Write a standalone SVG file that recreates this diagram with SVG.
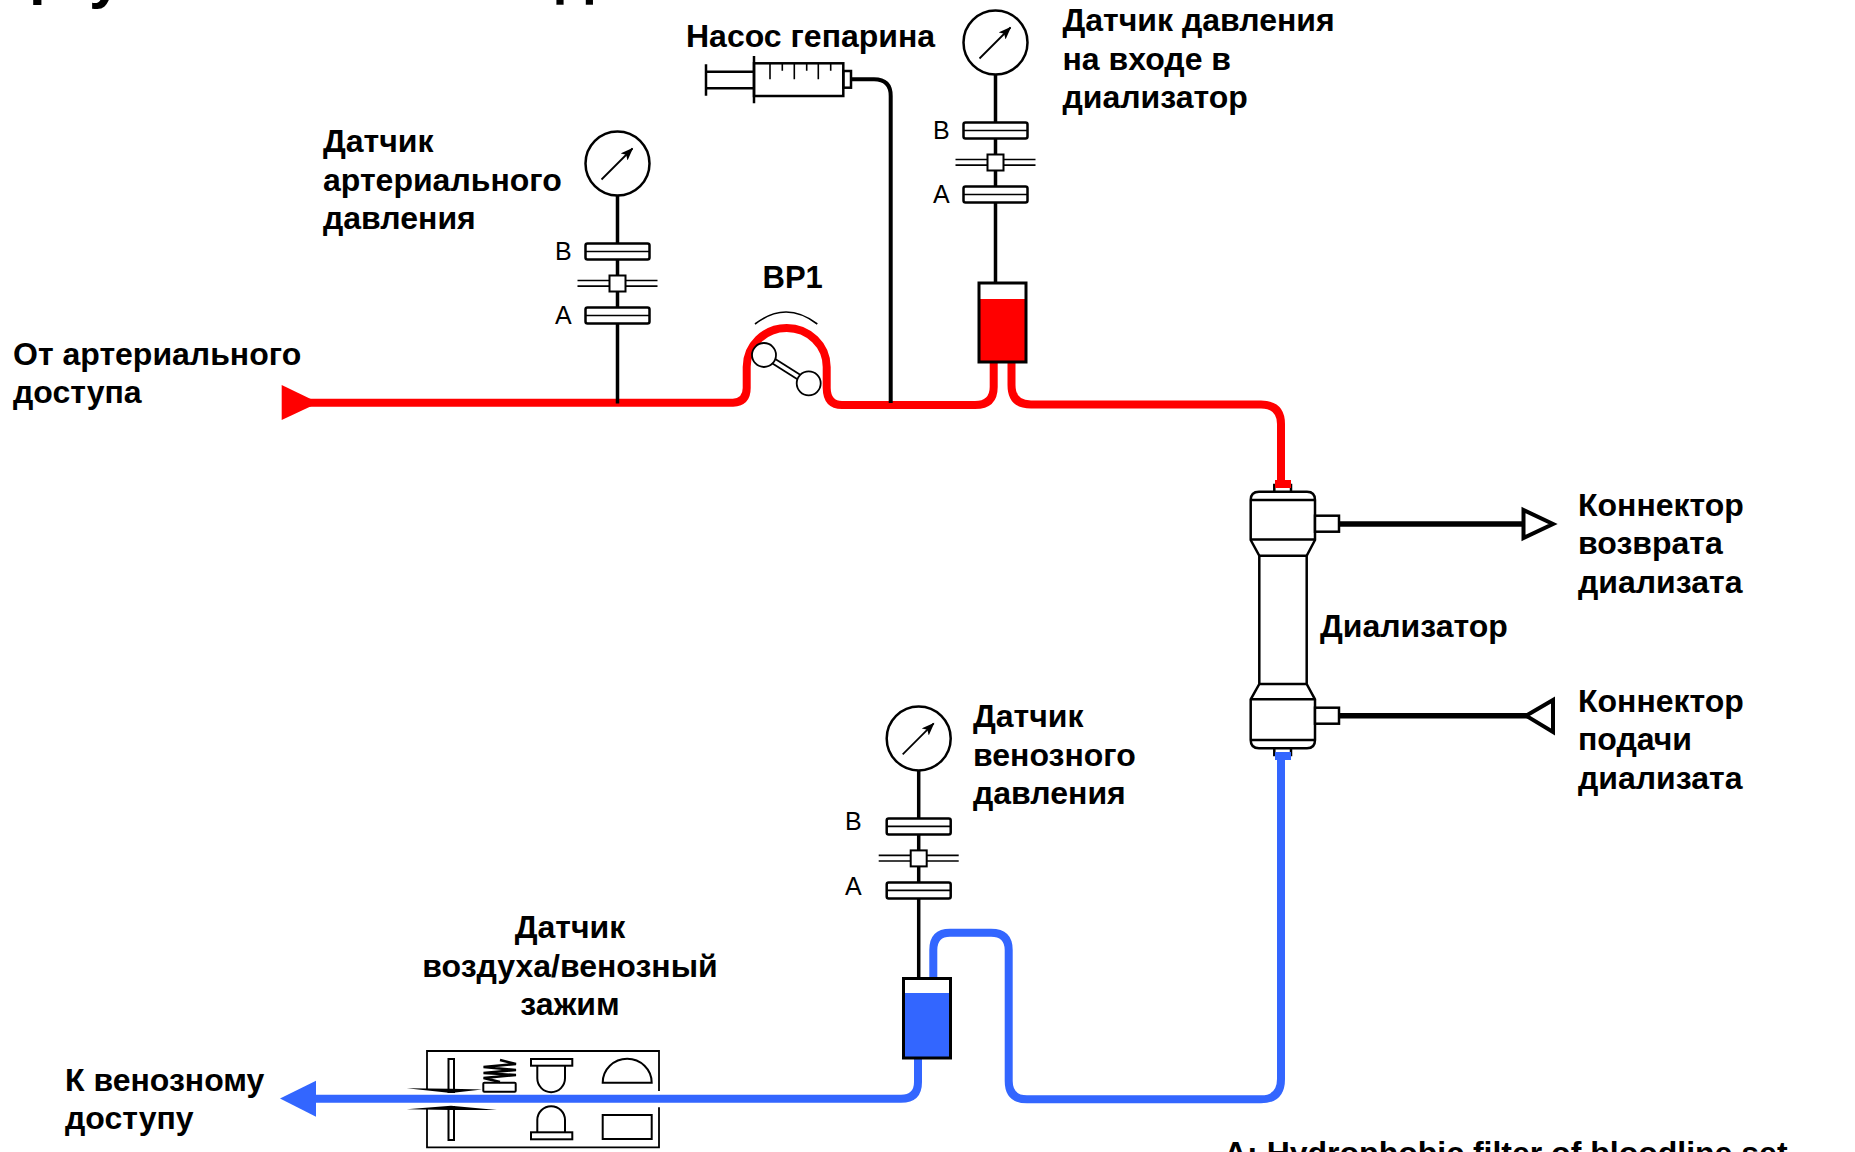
<svg xmlns="http://www.w3.org/2000/svg" xmlns:xlink="http://www.w3.org/1999/xlink" width="1855" height="1152" viewBox="0 0 1855 1152">
<style>
text{font-family:"Liberation Sans",Arial,sans-serif;fill:#000}
.b{font-weight:700;font-size:32px}
.t{font-weight:700;font-size:60px}
.ab{font-size:25px}
.k{fill:none;stroke:#000;stroke-width:2.5}
.w{fill:#fff;stroke:#000;stroke-width:2.5}
.r{fill:none;stroke:#f00;stroke-width:8}
.u{fill:none;stroke:#36f;stroke-width:8}
.s{fill:none;stroke:#000;stroke-width:4}
.l{fill:none;stroke:#000;stroke-width:5.5}
</style>
<defs>
<marker id="needle" markerWidth="14" markerHeight="12" refX="12" refY="5" orient="auto" markerUnits="userSpaceOnUse"><path d="M0,0L13,5L0,10L3,5Z" fill="#000"/></marker>
<g id="gauge">
<line x1="0" y1="32" x2="0" y2="240" stroke="#000" stroke-width="3.5"/>
<circle r="32" fill="#fff" stroke="#000" stroke-width="2.5"/>
<line x1="-16" y1="16" x2="15" y2="-15" stroke="#000" stroke-width="1.8" marker-end="url(#needle)"/>
<rect class="w" x="-32" y="80" width="64" height="16" rx="2"/>
<line class="k" x1="-32" y1="88" x2="32" y2="88" style="stroke-width:1.6"/>
<line x1="-40" y1="117" x2="40" y2="117" stroke="#000" stroke-width="1.6"/>
<line x1="-40" y1="122.6" x2="40" y2="122.6" stroke="#000" stroke-width="1.6"/>
<rect x="-8" y="112" width="16" height="16" fill="#fff" stroke="#000" stroke-width="2"/>
<rect class="w" x="-32" y="144" width="64" height="16" rx="2"/>
<line class="k" x1="-32" y1="152" x2="32" y2="152" style="stroke-width:1.6"/>
</g>
</defs>
<rect width="1855" height="1152" fill="#fff"/>
<g id="title-fragments">
<text class="t" x="29" y="-7">р</text>
<text class="t" x="89" y="-3">у</text>
<text class="t" x="556" y="-7">д</text>
</g>
<g id="connectors">
<path class="r" d="M305,402.7H733Q746.7,402 746.7,388V367A40,39 0 0 1 826.7,367V388Q827,405 842,405H975Q993.7,405 993.7,387V362"/>
<path class="r" d="M1011.5,362V385Q1011.5,404.6 1031,404.6H1261Q1281,404.6 1281,424V488"/>
<path class="u" d="M1281,752V1079Q1281,1099.3 1261,1099.3H1027Q1008.7,1099.3 1008.7,1081V950Q1008.7,932.7 991,932.7H950Q933.3,932.7 933.3,950V978"/>
<path class="u" d="M918,1058V1082Q918,1098.8 901,1098.8H312"/>
<path class="s" d="M851,79.3H874Q890.7,79.3 890.7,96V403"/>
<line class="l" x1="1339" y1="524" x2="1525" y2="524"/>
<line class="l" x1="1339" y1="715.7" x2="1528" y2="715.7"/>
</g>
<g id="arrow-in"><polygon points="281.7,385 281.7,420 318.5,402.7" fill="#f00"/></g>
<g id="arrow-out"><polygon points="280,1098.5 316,1080.7 316,1116.7" fill="#36f"/></g>
<g id="sensor-arterial"><use href="#gauge" x="617.5" y="163.5"/>
<text class="ab" x="555" y="260">B</text><text class="ab" x="555" y="324">A</text></g>
<g id="sensor-input"><use href="#gauge" x="995.5" y="42.5"/>
<text class="ab" x="933" y="139.3">B</text><text class="ab" x="933" y="202.7">A</text></g>
<g id="sensor-venous"><use href="#gauge" x="918.7" y="738.4"/>
<text class="ab" x="845" y="830">B</text><text class="ab" x="845" y="895">A</text></g>
<g id="chamber-red">
<rect x="980" y="299" width="45" height="62" fill="#f00"/>
<rect x="979" y="283" width="47" height="79" fill="none" stroke="#000" stroke-width="3"/>
</g>
<g id="chamber-blue">
<rect x="904" y="993" width="45" height="65" fill="#36f"/>
<rect x="903.5" y="978.5" width="47" height="79.5" fill="none" stroke="#000" stroke-width="3"/>
</g>
<g id="heparin-pump">
<path class="k" d="M706,64.3V95.7M706,71.7H754M706,88.3H754M754,56V103.3"/>
<rect class="k" x="754" y="63.3" width="89.3" height="32.7"/>
<path d="M770,63.3V79.3M782.3,63.3V70.7M794.3,63.3V79.3M806.7,63.3V70.7M818.3,63.3V79.3M830.7,63.3V70.7" fill="none" stroke="#000" stroke-width="1.6"/>
<rect class="k" x="843.3" y="71" width="7.7" height="16.7"/>
</g>
<g id="bp1-pump">
<path d="M755,324Q786,300 817.3,324" fill="none" stroke="#000" stroke-width="1.6"/>
<line x1="764" y1="355" x2="808.7" y2="383.3" stroke="#000" stroke-width="7"/>
<line x1="764" y1="355" x2="808.7" y2="383.3" stroke="#fff" stroke-width="3.4"/>
<circle cx="764" cy="355" r="12" fill="#fff" stroke="#000" stroke-width="1.8"/>
<circle cx="808.7" cy="383.3" r="12" fill="#fff" stroke="#000" stroke-width="1.8"/>
</g>
<g id="dialyzer">
<rect class="w" x="1274.3" y="485" width="16.7" height="10"/>
<rect class="w" x="1274.3" y="745" width="16.7" height="10"/>
<path class="w" d="M1259,491.7H1307Q1315,491.7 1315,500V540L1306.7,555.7V684L1315,699.3V740Q1315,748.3 1307,748.3H1259Q1250.7,748.3 1250.7,740V699.3L1259.3,684V555.7L1250.7,540V500Q1250.7,491.7 1259,491.7Z"/>
<path class="k" d="M1250.7,500H1315M1250.7,539.5H1315M1259.3,555.7H1306.7M1259.3,684H1306.7M1250.7,699.3H1315M1250.7,740H1315"/>
<rect class="w" x="1315" y="515.7" width="24" height="16"/>
<rect class="w" x="1315" y="707.7" width="24" height="16"/>
<path d="M1275,480H1291V488H1275Z" fill="#f00"/>
<path d="M1275,752H1291V760H1275Z" fill="#36f"/>
</g>
<g id="connector-return"><polygon points="1523.5,510 1523.5,538 1553,524" fill="#fff" stroke="#000" stroke-width="4"/></g>
<g id="connector-supply"><polygon points="1526,715.7 1553,700 1553,732" fill="#fff" stroke="#000" stroke-width="4"/></g>
<g id="air-detector">
<path d="M427,1089V1051H659V1091M659,1107.3V1147.3H427V1109" fill="none" stroke="#000" stroke-width="1.8"/>
<rect x="448.5" y="1059" width="5.5" height="33" fill="#fff" stroke="#000" stroke-width="2"/>
<rect x="448.5" y="1107" width="5.5" height="33" fill="#fff" stroke="#000" stroke-width="2"/>
<polygon points="406.7,1088.3 451,1088.7 482,1089.5 451,1093" fill="#000"/>
<polygon points="406.7,1109.3 451,1105.8 497,1110 451,1110" fill="#000"/>
<rect x="483.3" y="1082.7" width="32.4" height="9" rx="1" fill="#fff" stroke="#000" stroke-width="2"/>
<path d="M500,1060L516,1064L483.5,1067L516,1070L483.5,1073L516,1075L483.5,1078L500,1082" fill="none" stroke="#000" stroke-width="2.4"/>
<rect x="531" y="1059" width="41.3" height="6.7" fill="#fff" stroke="#000" stroke-width="2"/>
<path d="M537.3,1065.7V1078.3A13.8,13.8 0 0 0 565,1078.3V1065.7" fill="none" stroke="#000" stroke-width="2"/>
<rect x="531" y="1132.3" width="41.3" height="7" fill="#fff" stroke="#000" stroke-width="2"/>
<path d="M537.3,1132.3V1120A13.8,13.8 0 0 1 565,1120V1132.3" fill="none" stroke="#000" stroke-width="2"/>
<path d="M602.7,1082.7A24.5,24 0 0 1 651.7,1082.7Z" fill="#fff" stroke="#000" stroke-width="2"/>
<rect x="602.7" y="1115" width="49" height="24" fill="#fff" stroke="#000" stroke-width="2"/>
</g>
<g id="labels">
<text class="b" x="686" y="47">Насос гепарина</text>
<text class="b" x="1062.5" y="31">Датчик давления</text>
<text class="b" x="1062.5" y="69.6">на входе в</text>
<text class="b" x="1062.5" y="108.2">диализатор</text>
<text class="b" x="323" y="152">Датчик</text>
<text class="b" x="323" y="190.6">артериального</text>
<text class="b" x="323" y="229.2">давления</text>
<text class="b" x="762.5" y="288.3" style="font-size:31px">BP1</text>
<text class="b" x="13" y="365">От артериального</text>
<text class="b" x="13" y="403">доступа</text>
<text class="b" x="1578" y="516">Коннектор</text>
<text class="b" x="1578" y="554">возврата</text>
<text class="b" x="1578" y="593">диализата</text>
<text class="b" x="1320" y="637">Диализатор</text>
<text class="b" x="1578" y="712">Коннектор</text>
<text class="b" x="1578" y="750">подачи</text>
<text class="b" x="1578" y="789">диализата</text>
<text class="b" x="973" y="727">Датчик</text>
<text class="b" x="973" y="765.6">венозного</text>
<text class="b" x="973" y="804.2">давления</text>
<text class="b" x="570" y="938" text-anchor="middle">Датчик</text>
<text class="b" x="570" y="977" text-anchor="middle">воздуха/венозный</text>
<text class="b" x="570" y="1015" text-anchor="middle">зажим</text>
<text class="b" x="65" y="1091">К венозному</text>
<text class="b" x="65" y="1129">доступу</text>
<text class="b" x="1224" y="1164">A: Hydrophobic filter of bloodline set</text>
</g>
</svg>
